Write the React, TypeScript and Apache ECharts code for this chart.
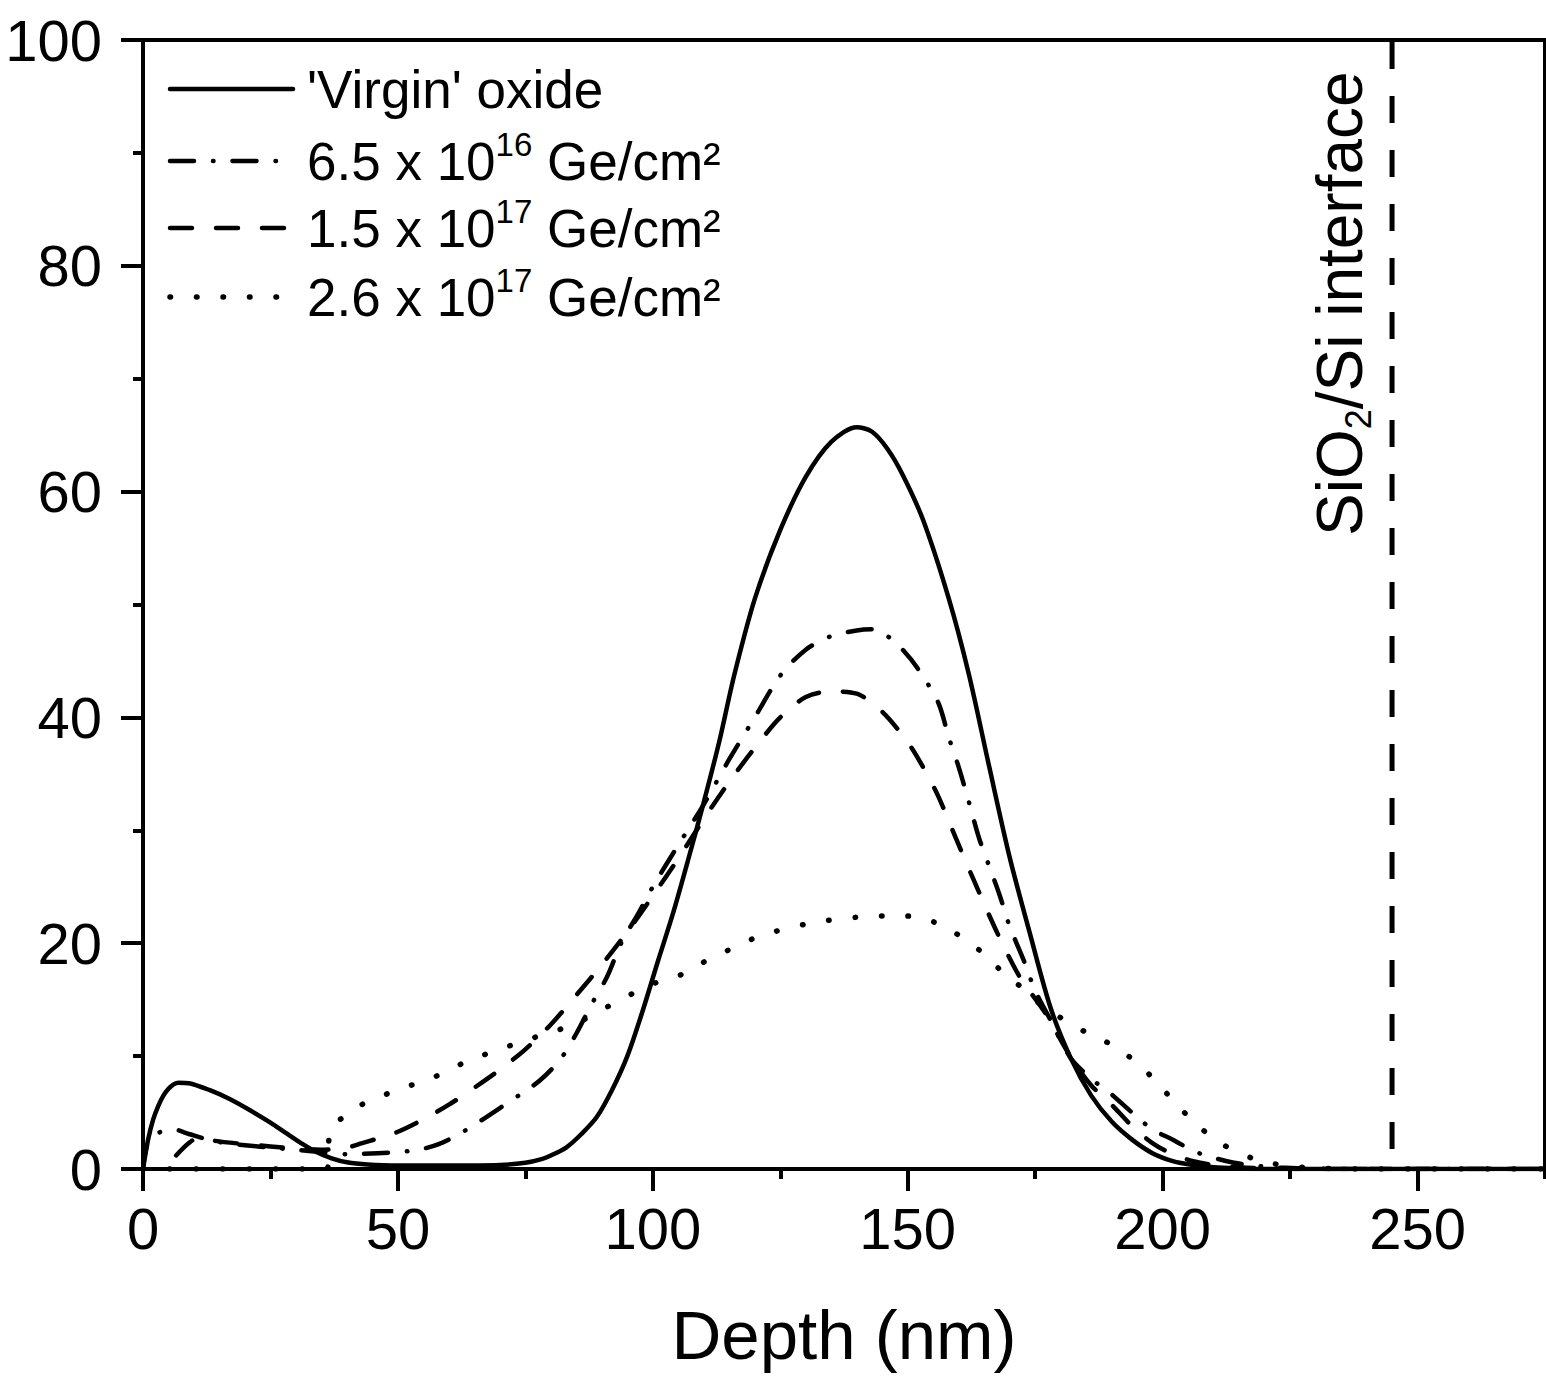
import React, { useEffect, useRef } from "react";
import * as echarts from "echarts";

const FONT = '"Liberation Sans", Arial, Helvetica, sans-serif';

// Axis settings
const xMin = 0;
const xMax = 275;
const xMajorTicks = [0, 50, 100, 150, 200, 250];
const yMin = 0;
const yMax = 100;

// SiO2/Si interface position (nm) and its vertical extent
const interfaceDepth = 245;
const interfaceSpan = [0, 100];

// Series: [depth (nm), value]
const virginOxide: number[][] = [
  [0, 0], [1, 2.6], [2, 4.4], [3, 5.6], [4, 6.5], [5, 7.1], [6, 7.5], [7, 7.65], [9, 7.6],
  [13, 7.0], [17, 6.2], [21, 5.2], [25, 4.1], [28, 3.2], [31, 2.3], [34, 1.5], [37, 0.95],
  [40, 0.6], [44, 0.4], [50, 0.3], [60, 0.3], [70, 0.35], [75, 0.55], [78, 0.85], [80, 1.2],
  [83, 1.9], [86, 3.1], [89, 4.6], [92, 7.0], [95, 10], [98, 14], [101, 18.4], [104, 22.7],
  [107, 27.5], [110, 32.5], [113, 37.8], [116, 43.8], [120, 50.5], [125, 56.6], [130, 61.3],
  [135, 64.4], [140, 65.7], [143, 65.3], [146, 63.8], [149, 61.5], [153, 57.5], [158, 50.6],
  [162, 43.8], [166, 35.6], [170, 27.6], [174, 20.8], [178, 14.3], [182, 9.8], [186, 6.5],
  [190, 4.2], [194, 2.6], [198, 1.4], [202, 0.7], [206, 0.35], [210, 0.15], [215, 0.05],
  [220, 0], [275, 0],
];

const dose65e16: number[][] = [
  [0, 0], [1, 2.4], [3, 3.2], [6, 3.5], [9, 3.1], [12, 2.7], [16, 2.3], [20, 2.1], [25, 1.9],
  [30, 1.7], [35, 1.5], [40, 1.3], [46, 1.4], [50, 1.5], [54, 1.7], [58, 2.2], [62, 3.1],
  [66, 4.2], [70, 5.4], [74, 6.6], [78, 7.9], [82, 9.8], [85, 12], [88, 14.6], [91, 17],
  [94, 20.2], [97, 22.5], [100, 25], [105, 28.7], [110, 32.3], [115, 36.3], [120, 40],
  [125, 43.7], [130, 46], [135, 47.2], [140, 47.7], [143, 47.8], [146, 47.2], [149, 46],
  [152, 44.3], [156, 41.3], [158, 38.3], [160, 35.6], [162, 32.5], [164, 29.3], [166, 26.8],
  [168, 24.3], [170, 21.5], [173, 18.2], [175, 15.8], [178, 13.2], [182, 9.8], [186, 8.0],
  [190, 6.6], [194, 5.0], [198, 3.5], [202, 2.6], [206, 1.6], [210, 1.0], [214, 0.55],
  [218, 0.3], [224, 0.1], [235, 0], [275, 0],
];

const dose15e17: number[][] = [
  [6.5, 1.2], [9, 2.3], [11, 2.8], [14, 2.5], [20, 2.2], [25, 2.0], [30, 1.8], [35, 1.7],
  [40, 1.9], [43, 2.3], [46, 2.7], [50, 3.3], [55, 4.4], [60, 5.7], [65, 7.2], [70, 8.8],
  [75, 10.6], [80, 12.8], [85, 15.4], [90, 18.1], [95, 21], [100, 24.2], [105, 27.5],
  [110, 31], [115, 34.3], [120, 37.3], [125, 40], [130, 41.8], [135, 42.3], [140, 42.1],
  [145, 40.5], [150, 37.8], [153, 35.6], [156, 33], [160, 28.7], [164, 24.5], [168, 20.5],
  [172, 17], [177, 13.8], [182, 9.9], [186, 7.4], [190, 5.7], [194, 3.8], [198, 2.3],
  [202, 1.3], [206, 0.7], [210, 0.35], [215, 0.15], [220, 0.05], [230, 0], [275, 0],
];

const dose26e17: number[][] = [
  [0, 0], [36, 0], [36.8, 3.6], [40, 4.8], [42, 5.5], [46, 6.3], [51, 7.2], [56, 7.9],
  [60, 8.8], [65, 9.8], [70, 10.6], [75, 11.4], [80, 12.1], [85, 12.9], [90, 14.1],
  [95, 15.3], [100, 16.4], [105, 17.1], [109, 18.1], [114, 19.2], [118, 20.1], [123, 20.9],
  [128, 21.5], [134, 22], [140, 22.3], [145, 22.4], [150, 22.4], [155, 21.9], [159, 21],
  [164, 19.4], [168, 17.7], [172, 16.2], [176, 14.6], [180, 13.4], [185, 12.1], [190, 11],
  [195, 9.4], [199, 7.6], [203, 5.6], [207, 3.8], [211, 2.4], [215, 1.4], [218, 0.9],
  [222, 0.45], [226, 0.2], [232, 0.05], [240, 0], [275, 0],
];

// Legend labels
const legendRows = [
  { base: "'Virgin' oxide", sup: "", tail: "" },
  { base: "6.5 x 10", sup: "16", tail: " Ge/cm²" },
  { base: "1.5 x 10", sup: "17", tail: " Ge/cm²" },
  { base: "2.6 x 10", sup: "17", tail: " Ge/cm²" },
];
const interfaceLabel = { pre: "SiO", sub: "2", post: "/Si interface" };

const LW = 4.5;
const dashStyles: any[] = [
  { type: "solid", width: LW },
  { type: [24, 19, 0.5, 19], width: LW },
  { type: [22, 24], width: LW },
  { type: [0.5, 26], width: 5.5 },
];

function measure(text: string, size: number): number {
  const ctx = document.createElement("canvas").getContext("2d");
  if (!ctx) return text.length * size * 0.55;
  ctx.font = `${size}px ${FONT}`;
  return ctx.measureText(text).width;
}

export default function App() {
  const ref = useRef<HTMLDivElement>(null);

  useEffect(() => {
    document.body.style.margin = "0";
    if (!ref.current) return;
    const chart = echarts.init(ref.current, undefined, { renderer: "svg" });

    const seriesData = [virginOxide, dose65e16, dose15e17, dose26e17];

    const LEG_FS = 53;
    const SUP_FS = 33;
    const legX1 = 170;
    const legX2 = 293;
    const textX = 307;
    const rowY = [89, 161, 228, 297];

    const graphic: any[] = [];
    legendRows.forEach((row, i) => {
      const st = dashStyles[i];
      const dash = Array.isArray(st.type) ? st.type : null;
      graphic.push({
        type: "line",
        shape: { x1: legX1, y1: rowY[i], x2: legX2, y2: rowY[i] },
        style: {
          stroke: "#000",
          lineWidth: st.width,
          lineDash: dash,
          lineCap: "round",
        },
        silent: true,
      });
      let x = textX;
      graphic.push({
        type: "text",
        x,
        y: rowY[i],
        style: {
          text: row.base,
          fontSize: LEG_FS,
          fontFamily: FONT,
          fill: "#000",
          align: "left",
          verticalAlign: "middle",
        },
      });
      if (row.sup) {
        x += measure(row.base, LEG_FS);
        graphic.push({
          type: "text",
          x,
          y: rowY[i] - 17,
          style: {
            text: row.sup,
            fontSize: SUP_FS,
            fontFamily: FONT,
            fill: "#000",
            align: "left",
            verticalAlign: "middle",
          },
        });
        x += measure(row.sup, SUP_FS);
        graphic.push({
          type: "text",
          x,
          y: rowY[i],
          style: {
            text: row.tail,
            fontSize: LEG_FS,
            fontFamily: FONT,
            fill: "#000",
            align: "left",
            verticalAlign: "middle",
          },
        });
      }
    });

    // Rotated interface label
    const IF_FS = 64;
    const IF_SUB = 36;
    const w1 = measure(interfaceLabel.pre, IF_FS);
    const w2 = measure(interfaceLabel.sub, IF_SUB);
    graphic.push({
      type: "group",
      x: 1340,
      y: 536,
      rotation: Math.PI / 2,
      children: [
        {
          type: "text",
          x: 0,
          y: 0,
          style: { text: interfaceLabel.pre, fontSize: IF_FS, fontFamily: FONT, fill: "#000", align: "left", verticalAlign: "middle" },
        },
        {
          type: "text",
          x: w1,
          y: 18,
          style: { text: interfaceLabel.sub, fontSize: IF_SUB, fontFamily: FONT, fill: "#000", align: "left", verticalAlign: "middle" },
        },
        {
          type: "text",
          x: w1 + w2,
          y: 0,
          style: { text: interfaceLabel.post, fontSize: IF_FS, fontFamily: FONT, fill: "#000", align: "left", verticalAlign: "middle" },
        },
      ],
    });

    const option: any = {
      animation: false,
      backgroundColor: "#fff",
      grid: {
        left: 143,
        right: 1,
        top: 40,
        bottom: 212,
        show: true,
        borderColor: "#000",
        borderWidth: 4,
        backgroundColor: "transparent",
      },
      xAxis: [
        {
          type: "value",
          min: xMin,
          max: xMax,
          interval: 25,
          position: "bottom",
          axisLine: { show: true, onZero: false, lineStyle: { color: "#000", width: 4 } },
          axisTick: { show: true, inside: false, length: 10, lineStyle: { color: "#000", width: 4 } },
          axisLabel: { show: false },
          splitLine: { show: false },
        },
        {
          type: "value",
          min: xMin,
          max: xMax,
          interval: 50,
          position: "bottom",
          axisLine: { show: false, onZero: false },
          axisTick: {
            show: true,
            inside: false,
            length: 22,
            customValues: xMajorTicks,
            lineStyle: { color: "#000", width: 4 },
          },
          axisLabel: {
            show: true,
            customValues: xMajorTicks,
            fontSize: 58,
            fontFamily: FONT,
            color: "#000",
            margin: 30,
          },
          splitLine: { show: false },
          name: "Depth (nm)",
          nameLocation: "middle",
          nameGap: 132,
          nameTextStyle: { fontSize: 69, fontFamily: FONT, color: "#000" },
        },
      ],
      yAxis: {
        type: "value",
        min: yMin,
        max: yMax,
        interval: 20,
        axisLine: { show: true, onZero: false, lineStyle: { color: "#000", width: 4 } },
        axisTick: { show: true, inside: false, length: 22, lineStyle: { color: "#000", width: 4 } },
        minorTick: { show: true, splitNumber: 2, length: 10, lineStyle: { color: "#000", width: 4 } },
        axisLabel: { fontSize: 58, fontFamily: FONT, color: "#000", margin: 41 },
        splitLine: { show: false },
        minorSplitLine: { show: false },
      },
      series: [
        ...seriesData.map((d, i) => ({
          type: "line",
          name: legendRows[i].base + legendRows[i].sup,
          data: d,
          xAxisIndex: 0,
          showSymbol: false,
          symbol: "none",
          smooth: 0.3,
          z: 5 - i,
          lineStyle: {
            color: "#000",
            width: dashStyles[i].width,
            type: dashStyles[i].type,
            cap: "round",
            join: "round",
          },
        })),
        {
          type: "line",
          name: "interface",
          data: interfaceSpan.map((v) => [interfaceDepth, v]),
          xAxisIndex: 0,
          showSymbol: false,
          symbol: "none",
          lineStyle: { color: "#000", width: 5, type: [27, 27], dashOffset: 34 },
        },
      ],
      graphic,
    };

    chart.setOption(option);
    return () => chart.dispose();
  }, []);

  return <div ref={ref} style={{ width: 1546, height: 1381 }} />;
}
